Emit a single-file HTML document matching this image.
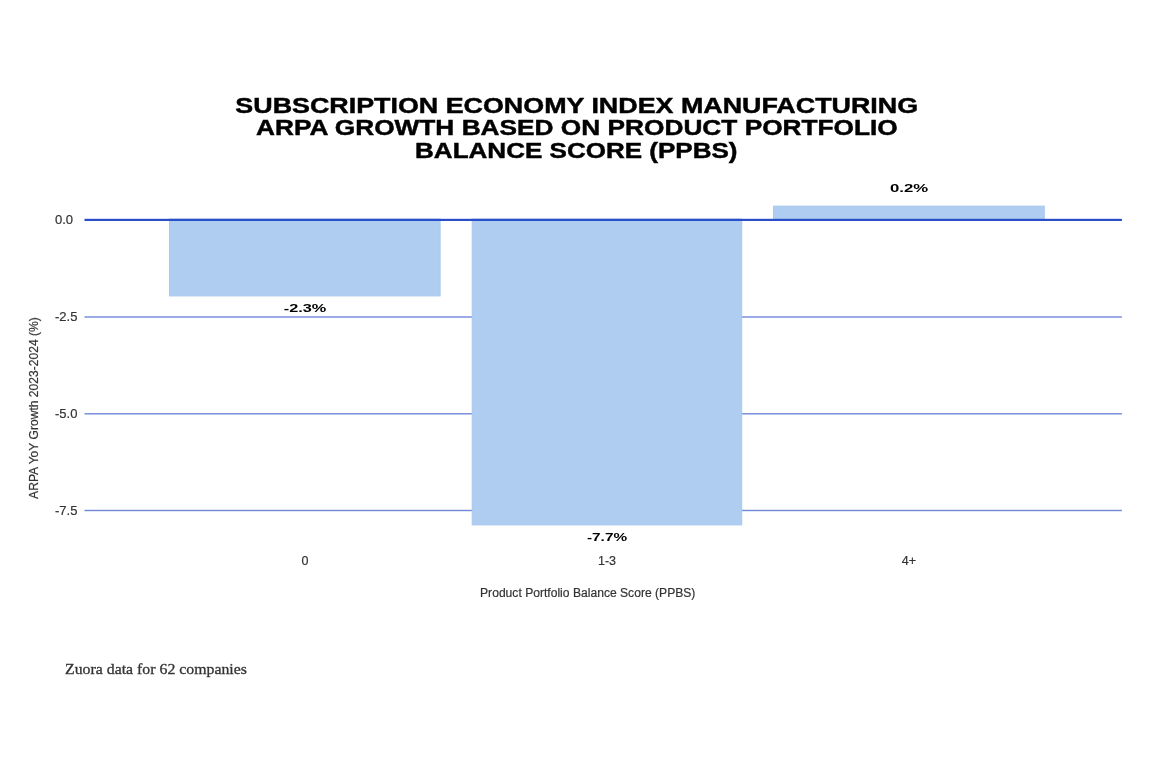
<!DOCTYPE html>
<html>
<head>
<meta charset="utf-8">
<style>
html,body{margin:0;padding:0;background:#fff;}
#c{position:relative;width:1153px;height:778px;overflow:hidden;background:#fff;}
.a{position:absolute;}
#tx{position:absolute;left:0;top:0;width:1153px;height:778px;filter:grayscale(1);}
.t{position:absolute;left:0;width:1153px;text-align:center;font-family:"Liberation Sans",sans-serif;font-weight:700;font-size:22px;color:#000;white-space:nowrap;line-height:22px;}
.t span{display:inline-block;transform-origin:50% 50%;-webkit-text-stroke:0.45px #000;}
.yl{position:absolute;left:55.2px;font-family:"Liberation Sans",sans-serif;font-size:13.5px;color:#333;line-height:13px;white-space:nowrap;transform:scaleX(0.965);transform-origin:0 0;-webkit-text-stroke:0.2px #333;}
.dl{position:absolute;font-family:"Liberation Sans",sans-serif;font-weight:700;font-size:11.5px;color:#000;line-height:12px;white-space:nowrap;text-align:center;width:200px;}
.dl span{display:inline-block;transform:scaleX(1.36);}
.xl{position:absolute;font-family:"Liberation Sans",sans-serif;font-size:12.5px;color:#333;line-height:13px;white-space:nowrap;text-align:center;width:200px;-webkit-text-stroke:0.2px #333;}
</style>
</head>
<body>
<div id="c">
  <svg class="a" style="left:0;top:0" width="1153" height="778" viewBox="0 0 1153 778">
    <rect x="84.5" y="316.3" width="1037.4" height="1.4" fill="#6f88da"/>
    <rect x="84.5" y="413.1" width="1037.4" height="1.4" fill="#6f88da"/>
    <rect x="84.5" y="509.8" width="1037.4" height="1.4" fill="#6f88da"/>
    <rect x="169.6" y="219" width="270.5" height="76.9" fill="#afcdf1" stroke="#a8c7ee" stroke-width="1"/>
    <rect x="472.2" y="219" width="269.5" height="305.9" fill="#afcdf1" stroke="#a8c7ee" stroke-width="1"/>
    <rect x="773.6" y="206.15" width="270.7" height="14" fill="#afcdf1" stroke="#a8c7ee" stroke-width="1"/>
    <rect x="84.5" y="218.8" width="1037.4" height="2.2" fill="#2a4dc8"/>
  </svg>

  <div id="tx">
    <div class="t" style="top:95px"><span style="transform:scaleX(1.2205)">SUBSCRIPTION ECONOMY INDEX MANUFACTURING</span></div>
    <div class="t" style="top:116.6px"><span style="transform:scaleX(1.1935)">ARPA GROWTH BASED ON PRODUCT PORTFOLIO</span></div>
    <div class="t" style="top:140px"><span style="transform:scaleX(1.183)">BALANCE SCORE (PPBS)</span></div>

    <div class="yl" style="top:213px">0.0</div>
    <div class="yl" style="top:310px">-2.5</div>
    <div class="yl" style="top:407px">-5.0</div>
    <div class="yl" style="top:504px">-7.5</div>

    <div class="dl" style="left:204.6px;top:302px"><span style="transform:scaleX(1.418)">-2.3%</span></div>
    <div class="dl" style="left:507px;top:531px"><span style="transform:scaleX(1.336)">-7.7%</span></div>
    <div class="dl" style="left:809px;top:182px"><span style="transform:scaleX(1.456)">0.2%</span></div>

    <div class="xl" style="left:205px;top:555px">0</div>
    <div class="xl" style="left:507px;top:555px">1-3</div>
    <div class="xl" style="left:809px;top:555px">4+</div>

    <div class="a" style="left:388.1px;top:587px;width:400px;text-align:center;font-family:'Liberation Sans',sans-serif;font-size:12px;color:#333;white-space:nowrap;line-height:13px;-webkit-text-stroke:0.2px #333;"><span style="display:inline-block;transform:scaleX(1.009)">Product Portfolio Balance Score (PPBS)</span></div>

    <div class="a" style="left:34px;top:408px;width:0;height:0;">
      <div style="position:absolute;left:-100px;top:-7px;width:200px;text-align:center;transform:rotate(-90deg);font-family:'Liberation Sans',sans-serif;font-size:12.1px;color:#333;white-space:nowrap;line-height:14px;-webkit-text-stroke:0.2px #333;">ARPA YoY Growth 2023-2024 (%)</div>
    </div>

    <div class="a" style="left:65px;top:660px;font-family:'Liberation Serif',serif;font-size:15px;color:#333;-webkit-text-stroke:0.3px #333;white-space:nowrap;line-height:18px;transform:scaleX(1.055);transform-origin:0 0;">Zuora data for 62 companies</div>
  </div>
</div>
</body>
</html>
